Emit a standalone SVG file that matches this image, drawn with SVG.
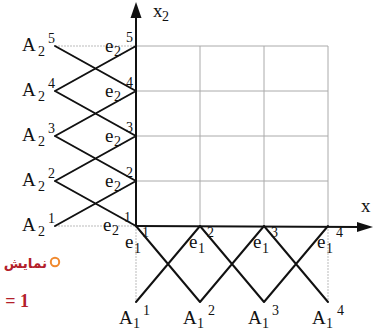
<svg xmlns="http://www.w3.org/2000/svg" width="374" height="332" viewBox="0 0 374 332">
<style>
.lbl{font-family:"Liberation Serif","Times New Roman",serif;font-size:19px;fill:#111}
.s{font-size:14px}
.grid{stroke:#aaa;stroke-width:1;fill:none}
.dot{stroke:#bbb;stroke-width:1;stroke-dasharray:2 1;fill:none}
.ax{stroke:#111;stroke-width:2;fill:none}
.cn{stroke:#111;stroke-width:2;fill:none;stroke-linecap:round}
.ar{fill:#111}
</style>
<rect width="374" height="332" fill="#fff"/>
<g id="grid">
<path class="grid" d="M136 46H328M136 91H328M136 136H328M136 181H328M200 46V226M264 46V226M328 46V226"/>
<path class="dot" d="M55 46H136M55 226H136M136 226V302M328 226V302"/>
</g>
<g id="axes">
<line class="ax" x1="136" y1="226" x2="136" y2="14"/>
<polygon class="ar" points="136,2 130.5,18 141.5,18"/>
<line class="ax" x1="136" y1="226" x2="360" y2="227"/>
<polygon class="ar" points="373,227 357,222 357,232"/>
<text class="lbl" x="153" y="17">x<tspan class="s" x="162" y="21">2</tspan></text>
<text class="lbl" x="361" y="212">x</text>
</g>
<g id="connectors">
<path class="cn" d="M55 46L136 91M55 91L136 46M55 91L136 136M55 136L136 91M55 136L136 181M55 181L136 136M55 181L136 226M55 226L136 181"/>
<path class="cn" d="M136 226L200 302M136 302L200 226M200 226L264 302M200 302L264 226M264 226L328 302M264 302L328 226"/>
</g>
<g id="A2-5"><text class="lbl" x="22" y="51">A<tspan class="s" x="38" y="56">2</tspan><tspan class="s" x="48" y="43">5</tspan></text></g>
<g id="A2-4"><text class="lbl" x="22" y="96">A<tspan class="s" x="38" y="101">2</tspan><tspan class="s" x="48" y="88">4</tspan></text></g>
<g id="A2-3"><text class="lbl" x="22" y="141">A<tspan class="s" x="38" y="146">2</tspan><tspan class="s" x="48" y="133">3</tspan></text></g>
<g id="A2-2"><text class="lbl" x="22" y="186">A<tspan class="s" x="38" y="191">2</tspan><tspan class="s" x="48" y="178">2</tspan></text></g>
<g id="A2-1"><text class="lbl" x="22" y="231">A<tspan class="s" x="38" y="236">2</tspan><tspan class="s" x="48" y="223">1</tspan></text></g>
<g id="e2-5"><text class="lbl" x="105" y="52">e<tspan class="s" x="114" y="56">2</tspan><tspan class="s" x="126" y="42">5</tspan></text></g>
<g id="e2-4"><text class="lbl" x="105" y="97">e<tspan class="s" x="114" y="101">2</tspan><tspan class="s" x="126" y="87">4</tspan></text></g>
<g id="e2-3"><text class="lbl" x="105" y="142">e<tspan class="s" x="114" y="146">2</tspan><tspan class="s" x="126" y="132">3</tspan></text></g>
<g id="e2-2"><text class="lbl" x="105" y="187">e<tspan class="s" x="114" y="191">2</tspan><tspan class="s" x="126" y="177">2</tspan></text></g>
<g id="e2-1"><text class="lbl" x="103" y="231">e<tspan class="s" x="112" y="235">2</tspan><tspan class="s" x="124" y="222">1</tspan></text></g>
<g id="e1-1"><text class="lbl" x="125" y="248">e<tspan class="s" x="134" y="253">1</tspan><tspan class="s" x="142" y="237">1</tspan></text></g>
<g id="e1-2"><text class="lbl" x="189" y="248">e<tspan class="s" x="198" y="253">1</tspan><tspan class="s" x="207" y="237">2</tspan></text></g>
<g id="e1-3"><text class="lbl" x="253" y="248">e<tspan class="s" x="262" y="253">1</tspan><tspan class="s" x="271" y="237">3</tspan></text></g>
<g id="e1-4"><text class="lbl" x="317" y="248">e<tspan class="s" x="326" y="253">1</tspan><tspan class="s" x="336" y="237">4</tspan></text></g>
<g id="A1-1"><text class="lbl" x="119" y="324">A<tspan class="s" x="133" y="328">1</tspan><tspan class="s" x="143" y="315">1</tspan></text></g>
<g id="A1-2"><text class="lbl" x="183" y="324">A<tspan class="s" x="197" y="328">1</tspan><tspan class="s" x="208" y="315">2</tspan></text></g>
<g id="A1-3"><text class="lbl" x="248" y="324">A<tspan class="s" x="262" y="328">1</tspan><tspan class="s" x="272" y="315">3</tspan></text></g>
<g id="A1-4"><text class="lbl" x="312" y="324">A<tspan class="s" x="326" y="328">1</tspan><tspan class="s" x="337" y="315">4</tspan></text></g>
<g id="note">
<circle cx="55" cy="262" r="4.2" fill="none" stroke="#f0892e" stroke-width="2"/>
<text x="47" y="268" text-anchor="end" font-family="'DejaVu Sans',sans-serif" font-weight="bold" font-size="13.5" fill="#b3202a">نمایش</text>
<text x="29" y="307" text-anchor="end" font-family="'Liberation Serif',serif" font-weight="bold" font-size="18" fill="#b3202a">= 1</text>
</g>
</svg>
